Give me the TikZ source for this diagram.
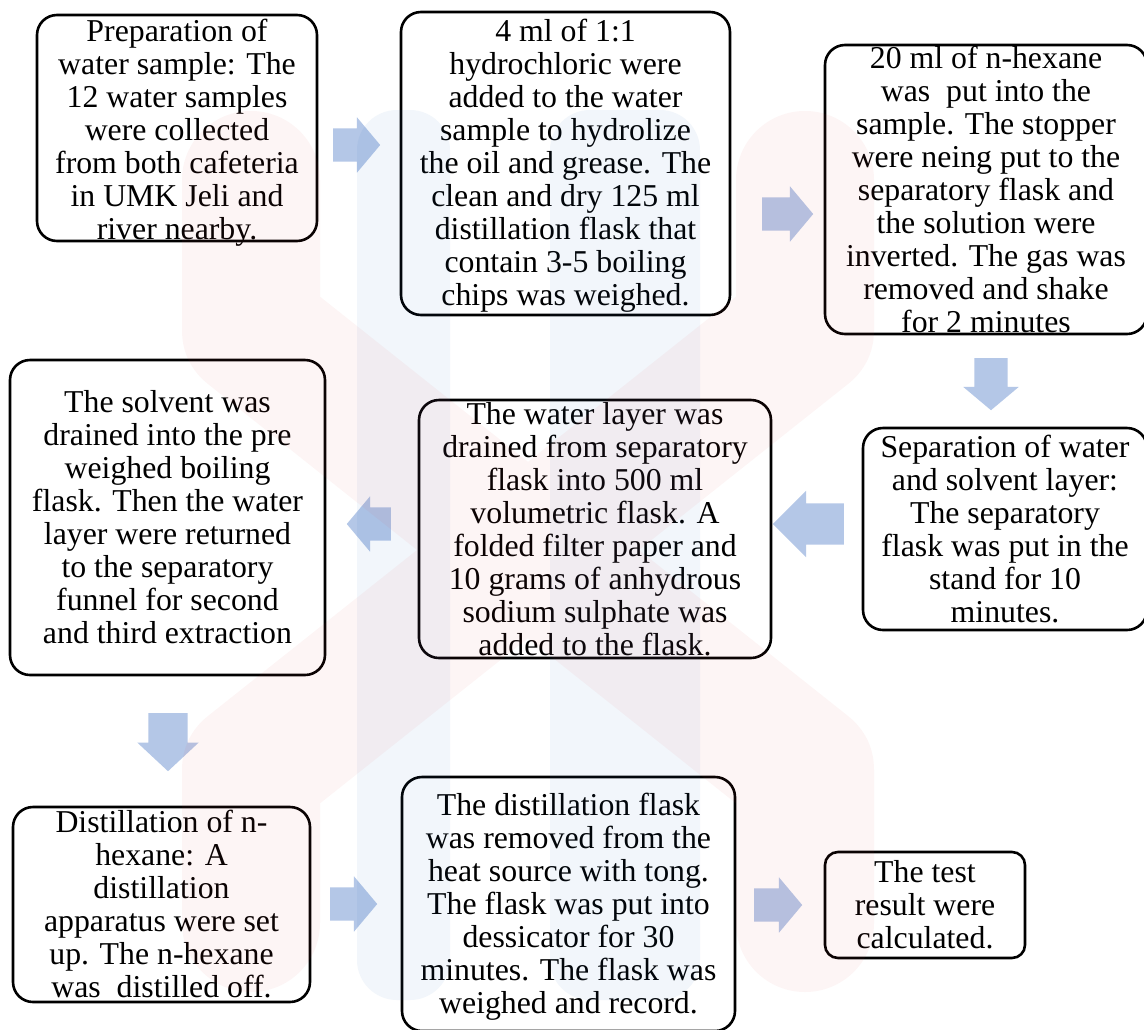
\documentclass[tikz,border=0pt]{standalone}
\usepackage{fontspec}
\setmainfont{Liberation Serif}
\usetikzlibrary{shapes.arrows}
\definecolor{arrowblue}{RGB}{180,199,231}
\definecolor{wmred}{RGB}{230,60,60}
\definecolor{wmblue}{RGB}{40,110,190}
\newcommand{\steptext}[4][0pt]{\parbox[c][#3pt][c]{#2pt}{\vspace*{#1}\centering #4}}

\begin{document}
\begin{tikzpicture}[x=1pt,y=-1pt,
  stepbox/.style={draw, line width=2.6pt, rounded corners=20pt, inner sep=0pt, font=\fontsize{31.8}{33}\selectfont},
  flowarrow/.style={single arrow, fill=arrowblue, draw=none, anchor=tail, inner xsep=0pt, inner ysep=16.5pt, text height=0pt, text depth=0pt, single arrow head extend=11pt, single arrow tip angle=100, single arrow head indent=0pt, minimum height=48pt},
  downarrow/.style={flowarrow, shape border rotate=270, inner xsep=16.5pt, inner ysep=0pt}]

  \fill[white] (0,0) rectangle (1144,1029);
  \useasboundingbox (0,0) rectangle (1144,1029);

  % steps
  \node[stepbox] (prep) at (177,128) {\steptext[10pt]{280}{226}{Preparation of\\ water sample: The\\ 12 water samples\\ were collected\\ from both cafeteria\\ in UMK Jeli and\\ river nearby.}};
  \node[stepbox] (acid) at (565.5,163.5) {\steptext[4pt]{329}{303}{4 ml of 1:1\\ hydrochloric were\\ added to the water\\ sample to hydrolize\\ the oil and grease. The\\ clean and dry 125 ml\\ distillation flask that\\ contain 3-5 boiling\\ chips was weighed.}};
  \node[stepbox] (hexane) at (986,189.5) {\steptext{322}{289}{20 ml of n-hexane\\ was~ put into the\\ sample. The stopper\\ were neing put to the\\ separatory flask and\\ the solution were\\ inverted. The gas was\\ removed and shake\\ for 2 minutes}};
  \node[stepbox] (separate) at (1005,529) {\steptext{284}{202}{Separation of water\\ and solvent layer:\\ The separatory\\ flask was put in the\\ stand for 10\\ minutes.}};
  \node[stepbox] (layer) at (595,529) {\steptext{352}{258}{The water layer was\\ drained from separatory\\ flask into 500 ml\\ volumetric flask. A\\ folded filter paper and\\ 10 grams of anhydrous\\ sodium sulphate was\\ added to the flask.}};
  \node[stepbox] (solvent) at (167.5,517.5) {\steptext{315}{315}{The solvent was\\ drained into the pre\\ weighed boiling\\ flask. Then the water\\ layer were returned\\ to the separatory\\ funnel for second\\ and third extraction}};
  \node[stepbox] (distill) at (161.5,904.5) {\steptext{297}{195}{Distillation of n-\\ hexane: A\\ distillation\\ apparatus were set\\ up. The n-hexane\\ was~ distilled off.}};
  \node[stepbox] (dryflask) at (568.5,904) {\steptext[6pt]{333}{254}{The distillation flask\\ was removed from the\\ heat source with tong.\\ The flask was put into\\ dessicator for 30\\ minutes. The flask was\\ weighed and record.}};
  \node[stepbox, rounded corners=13pt] (result) at (925,905) {\steptext{200}{106}{The test\\ result were\\ calculated.}};

  % block arrows between the steps
  \node[flowarrow, minimum height=47pt] (arr1) at (333,145) {};
  \node[flowarrow, minimum height=51pt] (arr2) at (762,214) {};
  \node[downarrow, minimum height=52pt] (arr3) at (991,358) {};
  \node[flowarrow, minimum height=71pt, inner ysep=20.5pt, single arrow head extend=12.5pt, single arrow tip angle=90, shape border rotate=180] (arr4) at (844,524) {};
  \node[flowarrow, minimum height=44pt, shape border rotate=180] (arr5) at (391,524) {};
  \node[downarrow, minimum height=58pt, inner xsep=19.5pt, single arrow tip angle=94] (arr6) at (168,713) {};
  \node[flowarrow, minimum height=47pt] (arr7) at (330,904) {};
  \node[flowarrow, minimum height=48pt] (arr8) at (754,905) {};

  % logo watermark
  \fill[wmblue, fill opacity=0.06, rounded corners=40pt] (357,110) rectangle (450,1000) (550,110) rectangle (700,1000);
  \draw[wmred, draw opacity=0.05, line width=138pt, line cap=round, line join=round]
    (251,180) -- (251,330) -- (805,770) -- (805,923)
    (805,180) -- (805,330) -- (251,770) -- (251,923);
\end{tikzpicture}
\end{document}
